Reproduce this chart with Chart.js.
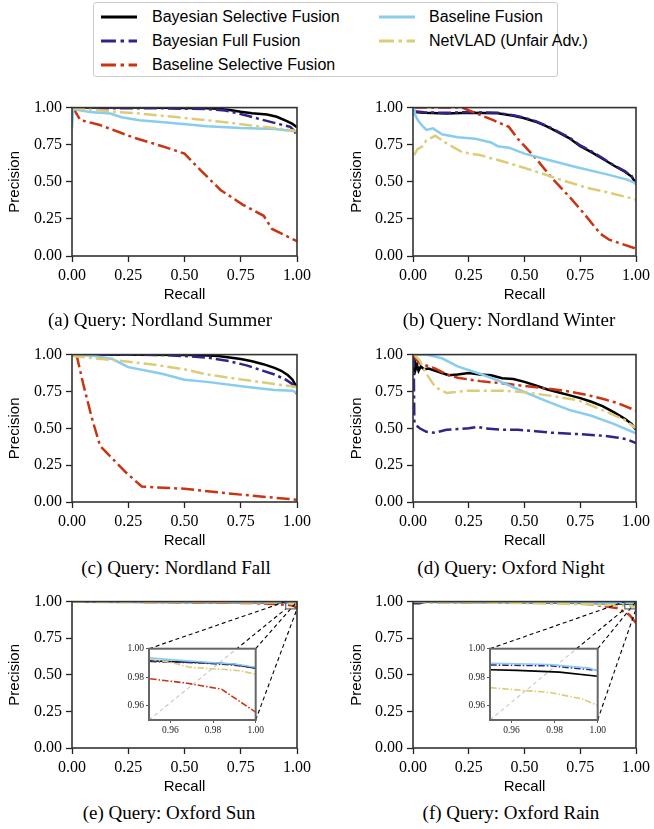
<!DOCTYPE html>
<html>
<head>
<meta charset="utf-8">
<script src="https://cdn.jsdelivr.net/npm/chart.js@4.4.0/dist/chart.umd.min.js"></script>
<style>
body { margin:0; width:654px; height:829px; background:#fff; position:relative; overflow:hidden; }
canvas { position:absolute; }
.caption { position:absolute; font-family:"Liberation Serif", "Times New Roman", serif; font-size:19px; line-height:22px; white-space:nowrap; transform:translateX(-50%); color:#000; }
#legend { position:absolute; left:93px; top:2px; width:465px; height:75px; border:1px solid #cccccc; border-radius:3px; background:#fff; font-family:"Liberation Sans", Arial, sans-serif; font-size:16px; box-sizing:border-box; }
.item { position:absolute; height:24px; line-height:24px; white-space:nowrap; }
.item svg { position:absolute; top:9px; }
.item span { position:absolute; }
</style>
</head>
<body>
<div id="legend"></div>
<canvas id="pa"></canvas>
<canvas id="pb"></canvas>
<canvas id="pc"></canvas>
<canvas id="pd"></canvas>
<canvas id="pe"></canvas>
<canvas id="pf"></canvas>
<canvas id="ie"></canvas>
<canvas id="if"></canvas>
<script>
// series
const seriesNames = ['Bayesian Selective Fusion', 'Bayesian Full Fusion', 'Baseline Selective Fusion', 'Baseline Fusion', 'NetVLAD (Unfair Adv.)'];
const seriesColors = ['#000000', '#332288', '#cc3311', '#88ccee', '#ddcc77'];
const dashDot = [13, 4, 3, 4];
const seriesDash = [[], dashDot, dashDot, [], dashDot];

const axisTicks = [0, 0.25, 0.5, 0.75, 1.0];
const insetRange = [0.95, 1.00];
const insetTicks = [0.96, 0.98, 1.00];

// (a) Nordland Summer  [recall, precision]
const aBSF = [[0,0.99],[0.02,1.0],[0.3,1.0],[0.5,0.998],[0.6,0.995],[0.65,0.992],[0.7,0.984],[0.75,0.972],[0.8,0.962],[0.867,0.953],[0.91,0.938],[0.955,0.909],[0.98,0.89],[1.0,0.868]];
const aBFF = [[0,0.985],[0.05,0.995],[0.4,0.995],[0.6,0.99],[0.68,0.98],[0.72,0.967],[0.78,0.945],[0.84,0.92],[0.9,0.897],[0.93,0.885],[0.97,0.87],[0.99,0.84],[1.0,0.80]];
const aBaseSel = [[0.005,1.0],[0.02,0.96],[0.037,0.916],[0.12,0.885],[0.27,0.80],[0.4,0.74],[0.5,0.69],[0.57,0.58],[0.66,0.445],[0.76,0.345],[0.852,0.271],[0.889,0.182],[0.94,0.144],[1.0,0.10]];
const aBase = [[0,0.86],[0.005,0.99],[0.02,0.985],[0.08,0.97],[0.17,0.96],[0.22,0.935],[0.3,0.915],[0.42,0.90],[0.53,0.885],[0.6,0.875],[0.75,0.862],[0.9,0.855],[0.96,0.845],[1.0,0.84]];
const aNet = [[0,0.995],[0.1,0.985],[0.2,0.97],[0.3,0.96],[0.45,0.938],[0.6,0.915],[0.7,0.898],[0.78,0.882],[0.9,0.862],[1.0,0.842]];

// (b) Nordland Winter
const bBSF = [[0.005,0.97],[0.05,0.965],[0.15,0.96],[0.25,0.965],[0.38,0.962],[0.45,0.945],[0.5,0.928],[0.55,0.905],[0.6,0.873],[0.65,0.835],[0.7,0.795],[0.75,0.74],[0.8,0.70],[0.85,0.655],[0.9,0.61],[0.95,0.568],[0.98,0.535],[1.0,0.49]];
const bBFF = [[0.005,0.975],[0.05,0.968],[0.15,0.965],[0.25,0.97],[0.38,0.965],[0.45,0.948],[0.5,0.932],[0.55,0.908],[0.6,0.877],[0.65,0.838],[0.7,0.80],[0.75,0.745],[0.8,0.705],[0.85,0.66],[0.9,0.612],[0.95,0.572],[0.98,0.54],[1.0,0.485]];
const bBaseSel = [[0.005,1.0],[0.22,1.0],[0.27,0.97],[0.36,0.915],[0.43,0.87],[0.47,0.79],[0.55,0.66],[0.62,0.53],[0.71,0.385],[0.77,0.28],[0.84,0.15],[0.88,0.11],[1.0,0.05]];
const bBase = [[0,0.97],[0.005,1.0],[0.01,0.95],[0.02,0.92],[0.04,0.88],[0.06,0.85],[0.09,0.86],[0.13,0.82],[0.2,0.80],[0.28,0.79],[0.35,0.765],[0.38,0.74],[0.43,0.73],[0.5,0.69],[0.6,0.65],[0.73,0.60],[0.87,0.55],[0.96,0.515],[1.0,0.49]];
const bNet = [[0.005,0.68],[0.02,0.72],[0.044,0.74],[0.06,0.78],[0.1,0.81],[0.15,0.76],[0.22,0.70],[0.3,0.68],[0.42,0.63],[0.55,0.57],[0.67,0.51],[0.78,0.46],[0.87,0.43],[0.95,0.40],[1.0,0.38]];

// (c) Nordland Fall
const cBSF = [[0,1.0],[0.55,0.998],[0.65,0.99],[0.75,0.97],[0.8,0.955],[0.85,0.935],[0.9,0.91],[0.93,0.89],[0.96,0.86],[0.98,0.83],[1.0,0.775]];
const cBFF = [[0,1.0],[0.4,0.998],[0.5,0.99],[0.6,0.98],[0.7,0.955],[0.78,0.925],[0.85,0.89],[0.9,0.865],[0.95,0.83],[0.98,0.80],[1.0,0.73]];
const cBaseSel = [[0.02,1.0],[0.05,0.80],[0.09,0.56],[0.125,0.38],[0.17,0.31],[0.24,0.20],[0.31,0.105],[0.36,0.10],[0.5,0.09],[0.75,0.05],[1.0,0.015]];
const cBase = [[0,1.0],[0.1,0.99],[0.18,0.97],[0.25,0.915],[0.4,0.87],[0.5,0.83],[0.6,0.815],[0.78,0.78],[0.9,0.76],[0.98,0.755],[1.0,0.74]];
const cNet = [[0,0.99],[0.1,0.975],[0.2,0.96],[0.35,0.935],[0.5,0.90],[0.6,0.865],[0.75,0.832],[0.9,0.80],[1.0,0.78]];

// (d) Oxford Night
const dBSF = [[0.003,0.86],[0.008,0.95],[0.012,0.90],[0.018,0.93],[0.025,0.89],[0.035,0.92],[0.05,0.90],[0.07,0.905],[0.1,0.89],[0.13,0.875],[0.16,0.86],[0.2,0.865],[0.25,0.875],[0.3,0.865],[0.35,0.86],[0.4,0.84],[0.45,0.835],[0.5,0.815],[0.55,0.79],[0.6,0.765],[0.65,0.745],[0.7,0.725],[0.75,0.705],[0.8,0.68],[0.85,0.65],[0.9,0.61],[0.95,0.565],[0.98,0.53],[1.0,0.49]];
const dBFF = [[0.003,1.0],[0.006,0.55],[0.01,0.525],[0.03,0.50],[0.06,0.476],[0.1,0.47],[0.15,0.49],[0.2,0.495],[0.25,0.50],[0.29,0.51],[0.32,0.50],[0.4,0.49],[0.47,0.49],[0.55,0.48],[0.62,0.47],[0.75,0.46],[0.85,0.45],[0.92,0.436],[0.96,0.425],[1.0,0.40]];
const dBaseSel = [[0,1.0],[0.03,0.94],[0.1,0.905],[0.15,0.866],[0.2,0.843],[0.3,0.82],[0.4,0.805],[0.5,0.787],[0.6,0.77],[0.7,0.75],[0.77,0.73],[0.85,0.70],[0.92,0.67],[1.0,0.62]];
const dBase = [[0,1.0],[0.06,1.0],[0.13,0.975],[0.2,0.92],[0.3,0.87],[0.38,0.825],[0.47,0.765],[0.59,0.69],[0.7,0.625],[0.8,0.585],[0.9,0.53],[1.0,0.465]];
const dNet = [[0.005,1.0],[0.03,0.96],[0.06,0.87],[0.1,0.78],[0.15,0.74],[0.25,0.755],[0.4,0.755],[0.5,0.745],[0.62,0.72],[0.74,0.69],[0.84,0.63],[0.945,0.56],[1.0,0.50]];

// (e) Oxford Sun
const eBSF = [[0,0.999],[0.5,0.998],[0.8,0.996],[0.9,0.994],[0.95,0.9916],[0.9825,0.9898],[0.99,0.989],[1.0,0.9864]];
const eBFF = [[0,0.999],[0.5,0.998],[0.9,0.994],[0.95,0.991],[0.975,0.990],[0.99,0.9885],[1.0,0.9866]];
const eBaseSel = [[0,1.0],[0.5,0.997],[0.8,0.99],[0.9,0.983],[0.95,0.979],[0.967,0.976],[0.984,0.9716],[1.0,0.9555]];
const eBase = [[0,1.0],[0.5,0.999],[0.9,0.996],[0.95,0.9936],[0.963,0.992],[0.9825,0.990],[0.99,0.9893],[1.0,0.987]];
const eNet = [[0,1.0],[0.5,0.998],[0.9,0.995],[0.95,0.9927],[0.96,0.9905],[0.969,0.987],[0.9825,0.9857],[0.993,0.9845],[1.0,0.982]];

// (f) Oxford Rain
const fBSF = [[0,0.999],[0.5,0.995],[0.9,0.988],[0.95,0.9852],[0.9626,0.9848],[0.9823,0.9836],[1.0,0.9807]];
const fBFF = [[0,0.989],[0.03,0.989],[0.05,0.997],[0.5,0.995],[0.9,0.991],[0.95,0.9886],[0.978,0.988],[1.0,0.9848]];
const fBaseSel = [[0,1.0],[0.5,0.996],[0.75,0.99],[0.815,0.978],[0.918,0.955],[0.97,0.91],[1.0,0.854]];
const fBase = [[0,1.0],[0.5,0.998],[0.9,0.992],[0.95,0.9898],[0.9777,0.9889],[0.9959,0.9864],[1.0,0.9845]];
const fNet = [[0,0.999],[0.5,0.99],[0.8,0.98],[0.9,0.975],[0.95,0.9727],[0.9626,0.9711],[0.9777,0.9693],[0.9929,0.9648],[1.0,0.9602]];

const sansFont = '"Liberation Sans", Arial, sans-serif';
const serifFont = '"Liberation Serif", "Times New Roman", serif';

// layout of the subplot grid (page pixels)
const cols = [
    { left: 0, width: 320, plotL: 72, plotR: 297, titleX: 15 },
    { left: 327, width: 327, plotL: 413, plotR: 639, titleX: 357 }
];
const rows = [
    { plotT: 106, plotB: 256, capY: 320 },
    { plotT: 353, plotB: 502, capY: 568 },
    { plotT: 600, plotB: 748, capY: 813 }
];

const panels = [
    { id: 'pa', col: 0, row: 0, caption: '(a) Query: Nordland Summer', capX: 160, data: [aBSF, aBFF, aBaseSel, aBase, aNet] },
    { id: 'pb', col: 1, row: 0, caption: '(b) Query: Nordland Winter', capX: 509, data: [bBSF, bBFF, bBaseSel, bBase, bNet] },
    { id: 'pc', col: 0, row: 1, caption: '(c) Query: Nordland Fall', capX: 176, data: [cBSF, cBFF, cBaseSel, cBase, cNet] },
    { id: 'pd', col: 1, row: 1, caption: '(d) Query: Oxford Night', capX: 511, data: [dBSF, dBFF, dBaseSel, dBase, dNet] },
    { id: 'pe', col: 0, row: 2, caption: '(e) Query: Oxford Sun', capX: 169, data: [eBSF, eBFF, eBaseSel, eBase, eNet], inset: { id: 'ie', box: [149, 647, 258, 720] } },
    { id: 'pf', col: 1, row: 2, caption: '(f) Query: Oxford Rain', capX: 511, data: [fBSF, fBFF, fBaseSel, fBase, fNet], inset: { id: 'if', box: [490, 647, 600, 720] } }
];

const insetCharts = {};

// box around the plot area
const frame = {
    id: 'frame',
    afterDraw(chart, args, opts) {
        const a = chart.chartArea, ctx = chart.ctx;
        ctx.save();
        ctx.strokeStyle = opts.color || '#333';
        ctx.lineWidth = opts.width || 1.6;
        ctx.strokeRect(a.left, a.top, a.right - a.left, a.bottom - a.top);
        ctx.restore();
    }
};

// semi transparent face of the inset axes
const insetFace = {
    id: 'insetFace',
    beforeDraw(chart) {
        const a = chart.chartArea, ctx = chart.ctx;
        ctx.save();
        ctx.fillStyle = 'rgba(255,255,255,0.78)';
        ctx.fillRect(a.left, a.top, a.right - a.left, a.bottom - a.top);
        ctx.restore();
    }
};

// dashed lines from the zoomed region to the inset corners
const connectors = {
    id: 'connectors',
    afterDatasetsDraw(chart) {
        const inset = insetCharts[chart.canvas.id];
        if (!inset || !inset.chartArea) return;
        const ctx = chart.ctx;
        const dx = inset.canvas.offsetLeft - chart.canvas.offsetLeft;
        const dy = inset.canvas.offsetTop - chart.canvas.offsetTop;
        const a = inset.chartArea;
        const xs = chart.scales.x, ys = chart.scales.y;
        const rx0 = xs.getPixelForValue(insetRange[0]), rx1 = xs.getPixelForValue(insetRange[1]);
        const ry0 = ys.getPixelForValue(insetRange[1]), ry1 = ys.getPixelForValue(insetRange[0]);
        const lines = [
            [a.left + dx, a.top + dy, rx0, ry0],
            [a.right + dx, a.top + dy, rx1, ry0],
            [a.left + dx, a.bottom + dy, rx0, ry1],
            [a.right + dx, a.bottom + dy, rx1, ry1]
        ];
        ctx.save();
        ctx.strokeStyle = '#000';
        ctx.lineWidth = 1.1;
        ctx.setLineDash([4, 3]);
        lines.forEach(l => {
            ctx.beginPath();
            ctx.moveTo(l[0], l[1]);
            ctx.lineTo(l[2], l[3]);
            ctx.stroke();
        });
        ctx.setLineDash([]);
        ctx.strokeStyle = '#555';
        ctx.strokeRect(rx0, ry0, rx1 - rx0, ry1 - ry0);
        ctx.restore();
    }
};

function makeDatasets(data, width, dashScale) {
    return data.map((d, i) => ({
        label: seriesNames[i],
        data: d.map(p => ({ x: p[0], y: p[1] })),
        borderColor: seriesColors[i],
        borderDash: seriesDash[i].map(v => v * dashScale),
        borderWidth: width,
        pointRadius: 0,
        tension: 0,
        fill: false,
        order: -i
    }));
}

function makeInset(inset, data) {
    const [L, T, R, B] = inset.box;
    const cv = document.getElementById(inset.id);
    cv.width = R - L + 34 + 8;
    cv.height = B - T + 6 + 20;
    cv.style.left = (L - 34) + 'px';
    cv.style.top = (T - 6) + 'px';
    const tickOpts = { font: { family: serifFont, size: 9.5 }, color: '#222', padding: 2, autoSkip: false, maxRotation: 0, callback: v => v.toFixed(2) };
    const gridOpts = { drawOnChartArea: false, drawTicks: true, tickLength: 3, tickColor: '#555', tickWidth: 1 };
    return new Chart(cv, {
        type: 'line',
        data: { datasets: makeDatasets(data, 1.6, 0.5) },
        options: {
            responsive: false,
            animation: false,
            layout: { padding: { top: 6, right: 8, left: 0, bottom: 0 } },
            plugins: { legend: { display: false }, tooltip: { enabled: false }, frame: { color: '#666', width: 2 } },
            scales: {
                x: {
                    type: 'linear', min: insetRange[0], max: insetRange[1],
                    afterBuildTicks: s => { s.ticks = insetTicks.map(v => ({ value: v })); },
                    afterFit: s => { s.height = 20; },
                    ticks: tickOpts, grid: gridOpts,
                    border: { display: false }
                },
                y: {
                    type: 'linear', min: insetRange[0], max: insetRange[1],
                    afterBuildTicks: s => { s.ticks = insetTicks.map(v => ({ value: v })); },
                    afterFit: s => { s.width = 34; },
                    ticks: tickOpts, grid: gridOpts,
                    border: { display: false }
                }
            }
        },
        plugins: [insetFace, frame]
    });
}

function makePanel(p) {
    const c = cols[p.col], r = rows[p.row];
    const cv = document.getElementById(p.id);
    cv.width = c.width;
    cv.height = r.plotB - r.plotT + 12 + 54;
    cv.style.left = c.left + 'px';
    cv.style.top = (r.plotT - 12) + 'px';
    const tickOpts = { font: { family: serifFont, size: 16 }, color: '#000', padding: 4, autoSkip: false, maxRotation: 0, callback: v => v.toFixed(2) };
    const gridOpts = { drawOnChartArea: false, drawTicks: true, tickLength: 6, tickColor: '#222', tickWidth: 1.3 };
    const titleFont = { family: sansFont, size: 15 };
    const chart = new Chart(cv, {
        type: 'line',
        data: { datasets: makeDatasets(p.data, 2.5, 1) },
        options: {
            responsive: false,
            animation: false,
            layout: { padding: { top: 12, right: c.left + c.width - c.plotR, left: 0, bottom: 0 } },
            plugins: { legend: { display: false }, tooltip: { enabled: false } },
            scales: {
                x: {
                    type: 'linear', min: 0, max: 1,
                    afterBuildTicks: s => { s.ticks = axisTicks.map(v => ({ value: v })); },
                    afterFit: s => { s.height = 54; },
                    ticks: tickOpts, grid: gridOpts,
                    border: { display: false },
                    title: { display: true, text: 'Recall', font: titleFont, color: '#000', padding: { top: 0, bottom: 6 } }
                },
                y: {
                    type: 'linear', min: 0, max: 1,
                    afterBuildTicks: s => { s.ticks = axisTicks.map(v => ({ value: v })); },
                    afterFit: s => { s.width = c.plotL - c.left; },
                    ticks: tickOpts, grid: gridOpts,
                    border: { display: false },
                    title: { display: true, text: 'Precision', font: titleFont, color: '#000', padding: { top: c.titleX - c.left - 9, bottom: 0 } }
                }
            }
        },
        plugins: [connectors, frame]
    });

    const cap = document.createElement('div');
    cap.className = 'caption';
    cap.textContent = p.caption;
    cap.style.left = p.capX + 'px';
    cap.style.top = (r.capY - 11) + 'px';
    document.body.appendChild(cap);
    return chart;
}

// insets first so the connectors can find them
panels.forEach(p => {
    if (p.inset) insetCharts[p.id] = makeInset(p.inset, p.data);
});
panels.forEach(p => makePanel(p));

// legend
const legendSlots = [[7, 58, 2], [7, 58, 26], [7, 58, 50], [285, 335, 2], [285, 335, 26]];
const legend = document.getElementById('legend');
seriesNames.forEach((name, i) => {
    const [lx, tx, ty] = legendSlots[i];
    const item = document.createElement('div');
    item.className = 'item';
    item.style.left = '0px';
    item.style.top = ty + 'px';
    const dash = seriesDash[i].length ? seriesDash[i].map(v => v * 1.15).join(',') : 'none';
    item.innerHTML = '<svg width="36" height="6" style="left:' + lx + 'px"><line x1="0" y1="3" x2="36" y2="3" stroke="' + seriesColors[i] +
        '" stroke-width="3" stroke-dasharray="' + dash + '"/></svg><span style="left:' + tx + 'px">' + name + '</span>';
    legend.appendChild(item);
});
</script>
</body>
</html>
